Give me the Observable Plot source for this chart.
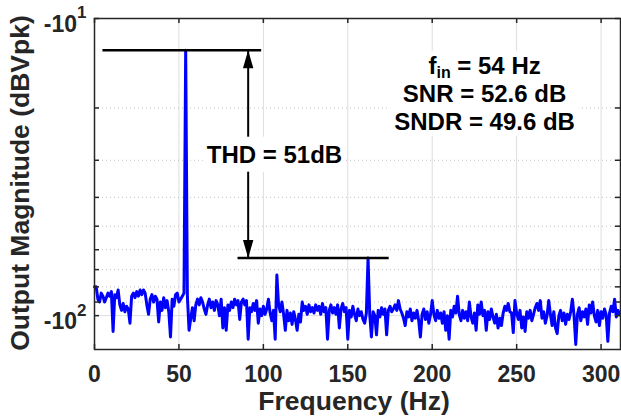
<!DOCTYPE html>
<html><head><meta charset="utf-8">
<script src="https://cdn.jsdelivr.net/npm/d3@7"></script>
<script src="https://cdn.jsdelivr.net/npm/@observablehq/plot@0.6"></script>
<style>html,body{margin:0;padding:0;background:#fff}svg{display:block}</style>
</head><body><div id="chart"></div>
<script>
// ---- data ----
const binWidthHz = 1; // spectrum bin spacing, starting at 0 Hz
const magnitudeDB = [
 -80,-80,-88,-90,-84,-86,-90,-87,-84,-86,
 -83,-113,-85,-87,-82,-92,-96,-91,-97,-93,
 -95,-106,-86,-84,-87,-83,-86,-82,-85,-82,
 -84,-92,-99,-88,-85,-90,-86,-88,-105,-90,
 -96,-87,-94,-89,-97,-118,-88,-93,-85,-84,
 -90,-88,-86,-84,-12.8,-86,-112,-102,-94,-104,
 -92,-88,-92,-87,-90,-95,-99,-92,-88,-94,
 -90,-96,-89,-92,-100,-88,-110,-94,-112,-92,
 -96,-90,-94,-88,-92,-89,-103,-90,-88,-92,
 -89,-120,-94,-97,-91,-96,-89,-106,-95,-100,
 -93,-99,-95,-88,-98,-104,-96,-120,-73,-92,
 -97,-90,-99,-112,-96,-104,-98,-107,-97,-103,
 -112,-99,-105,-90,-96,-93,-99,-92,-97,-94,
 -98,-92,-96,-93,-99,-91,-97,-94,-120,-96,
 -92,-98,-94,-99,-92,-110,-95,-91,-97,-94,
 -120,-96,-101,-93,-99,-104,-95,-100,-97,-103,
 -106,-98,-64,-99,-118,-97,-100,-116,-96,-101,
 -94,-99,-95,-116,-96,-93,-97,-95,-92,-96,
 -89,-95,-98,-102,-108,-97,-101,-95,-104,-98,
 -102,-96,-104,-118,-99,-95,-103,-97,-106,-99,
 -89,-99,-104,-96,-102,-98,-106,-97,-112,-100,
 -120,-96,-101,-93,-98,-86,-99,-104,-96,-102,
 -97,-104,-90,-101,-106,-98,-112,-92,-99,-90,
 -100,-96,-112,-97,-103,-95,-101,-106,-99,-110,
 -102,-108,-98,-93,-96,-91,-97,-98,-114,-89,
 -98,-103,-96,-110,-101,-113,-97,-102,-96,-104,
 -99,-94,-91,-96,-89,-102,-97,-106,-100,-89,
 -99,-108,-97,-110,-115,-100,-96,-104,-98,-107,
 -99,-103,-97,-88,-100,-125,-99,-94,-104,-97,
 -101,-95,-107,-92,-98,-90,-100,-105,-96,-108,
 -97,-102,-95,-99,-122,-98,-93,-97,-88,-101,
 -96,-99
];
const xTicks = [0, 50, 100, 150, 200, 250, 300];
const yMajorTicks = [-100, -10];
const yMinorTicks = [-90, -80, -70, -60, -50, -40, -30, -20];
const xDomain = [0, 311.5];
const yDomain = [-130, -10];
const refLines = [
  {y: -12.8, x1: 5, x2: 99},     // fundamental level
  {y: -64, x1: 85, x2: 174.5}    // 3rd harmonic level
];
const arrowX = 91;
const thdLabel = [{x: 106.6, y: -28.8, text: "THD = 51dB"}];
const statsLabel = [{x: 231, y: -17.8, text: "f_in = 54 Hz\nSNR = 52.6 dB\nSNDR = 49.6 dB"}];
const xLabel = "Frequency (Hz)";
const yLabel = "Output Magnitude (dBVpk)";

// ---- layout ----
const W = 621, H = 418;
const mL = 94, mR = 1, mT = 18, mB = 69;
const font = "'Liberation Sans', Arial, Helvetica, sans-serif";
const axisColor = "#262626";
const pxPerHz = (W - mL - mR) / (xDomain[1] - xDomain[0]);
const pxPerDecade = (H - mT - mB) / Math.log10(yDomain[0] / yDomain[1]);
const tickLen = 5;

const spectrum = magnitudeDB.map((v, i) => ({f: i * binWidthHz, v}));

const arrowUp = {draw(ctx) { ctx.moveTo(0, 0); ctx.lineTo(5.2, 18); ctx.lineTo(-5.2, 18); ctx.closePath(); }};
const arrowDown = {draw(ctx) { ctx.moveTo(0, 0); ctx.lineTo(5.2, -18); ctx.lineTo(-5.2, -18); ctx.closePath(); }};

const allYTicks = [...yMajorTicks, ...yMinorTicks];
const tickStyle = {stroke: axisColor, strokeWidth: 1.5};

const plot = Plot.plot({
  width: W, height: H,
  marginLeft: mL, marginRight: mR, marginTop: mT, marginBottom: mB,
  style: {fontFamily: font, background: "white", overflow: "visible"},
  x: {domain: xDomain},
  y: {type: "log", domain: yDomain},
  marks: [
    Plot.ruleX(xTicks.slice(1), {stroke: "#dedede", strokeWidth: 1}),
    Plot.ruleY(yMinorTicks, {stroke: "#c2c2c2", strokeWidth: 1, strokeDasharray: "1,3"}),
    Plot.ruleY([yMajorTicks[0]], {stroke: "#dedede", strokeWidth: 1}),
    Plot.line(spectrum, {x: "f", y: "v", stroke: "#0000ff", strokeWidth: 3, strokeLinejoin: "round"}),
    Plot.ruleY(refLines, {y: "y", x1: "x1", x2: "x2", stroke: "black", strokeWidth: 2.5}),
    Plot.ruleX([arrowX], {y1: refLines[0].y, y2: refLines[1].y, stroke: "black", strokeWidth: 2}),
    Plot.dot([{x: arrowX, y: refLines[0].y}], {x: "x", y: "y", symbol: arrowUp, fill: "black", stroke: "none"}),
    Plot.dot([{x: arrowX, y: refLines[1].y}], {x: "x", y: "y", symbol: arrowDown, fill: "black", stroke: "none"}),
    Plot.text(thdLabel, {x: "x", y: "y", text: "text", fontSize: 24, fontWeight: "bold", fill: "black"}),
    Plot.text(statsLabel, {x: "x", y: "y", text: "text", fontSize: 24, fontWeight: "bold", fill: "black", lineHeight: 1.17}),
    Plot.frame({stroke: axisColor, strokeWidth: 1.5}),
    Plot.ruleX(xTicks, {y1: yDomain[0], y2: yDomain[0] / 10 ** (tickLen / pxPerDecade), ...tickStyle}),
    Plot.ruleX(xTicks, {y1: yDomain[1], y2: yDomain[1] * 10 ** (tickLen / pxPerDecade), ...tickStyle}),
    Plot.ruleY(allYTicks, {x1: xDomain[0], x2: xDomain[0] + tickLen / pxPerHz, ...tickStyle}),
    Plot.ruleY(allYTicks, {x1: xDomain[1] - tickLen / pxPerHz, x2: xDomain[1], ...tickStyle}),
    Plot.axisX({ticks: xTicks, tickSize: 0, tickPadding: 16, fontSize: 23, fontWeight: "bold", fill: axisColor, label: null}),
    Plot.axisY({ticks: yMajorTicks, tickSize: 0, tickPadding: 8, fontSize: 23, fontWeight: "bold", fill: axisColor, label: null, dy: 6,
      tickFormat: d => `-10^${Math.round(Math.log10(-d))}`}),
    Plot.text([xLabel], {frameAnchor: "bottom", textAnchor: "middle", lineAnchor: "middle", dy: 52.5, dx: -3.5, fontSize: 26.5, fontWeight: "bold", fill: axisColor}),
    Plot.text([yLabel], {frameAnchor: "left", textAnchor: "middle", lineAnchor: "middle", rotate: -90, dx: -73.5, dy: -1, fontSize: 26.5, fontWeight: "bold", fill: axisColor})
  ]
});

document.getElementById("chart").append(plot);
const svg = d3.select(plot);

// superscript exponents on y tick labels
svg.selectAll('g[aria-label="y-axis tick label"] text').each(function() {
  const t = d3.select(this);
  const [base, exp] = t.text().split("^");
  t.text(base);
  t.append("tspan").attr("dy", -13.5).attr("font-size", 17).text(exp);
});

// subscript "in" in f_in
svg.selectAll("tspan").filter(function() { return this.textContent.startsWith("f_in"); }).each(function() {
  const s = d3.select(this);
  const rest = this.textContent.slice(4);
  s.text("");
  s.append("tspan").text("f");
  s.append("tspan").attr("dy", 4).attr("font-size", 16).text("in");
  s.append("tspan").attr("dy", -4).text(rest);
});

// white background boxes behind annotation texts
function addBox(match, padX, padY) {
  svg.selectAll("text").filter(function() { return match(this.textContent); }).each(function() {
    const b = this.getBBox();
    const r = document.createElementNS("http://www.w3.org/2000/svg", "rect");
    r.setAttribute("x", b.x - padX);
    r.setAttribute("y", b.y - padY);
    r.setAttribute("width", b.width + 2 * padX);
    r.setAttribute("height", b.height + 2 * padY);
    r.setAttribute("fill", "white");
    const tr = this.getAttribute("transform");
    if (tr) r.setAttribute("transform", tr);
    this.parentNode.insertBefore(r, this);
  });
}
addBox(s => s === "THD = 51dB", 3, 4);
addBox(s => s.startsWith("fin"), 4, 1);
</script>
</body></html>
